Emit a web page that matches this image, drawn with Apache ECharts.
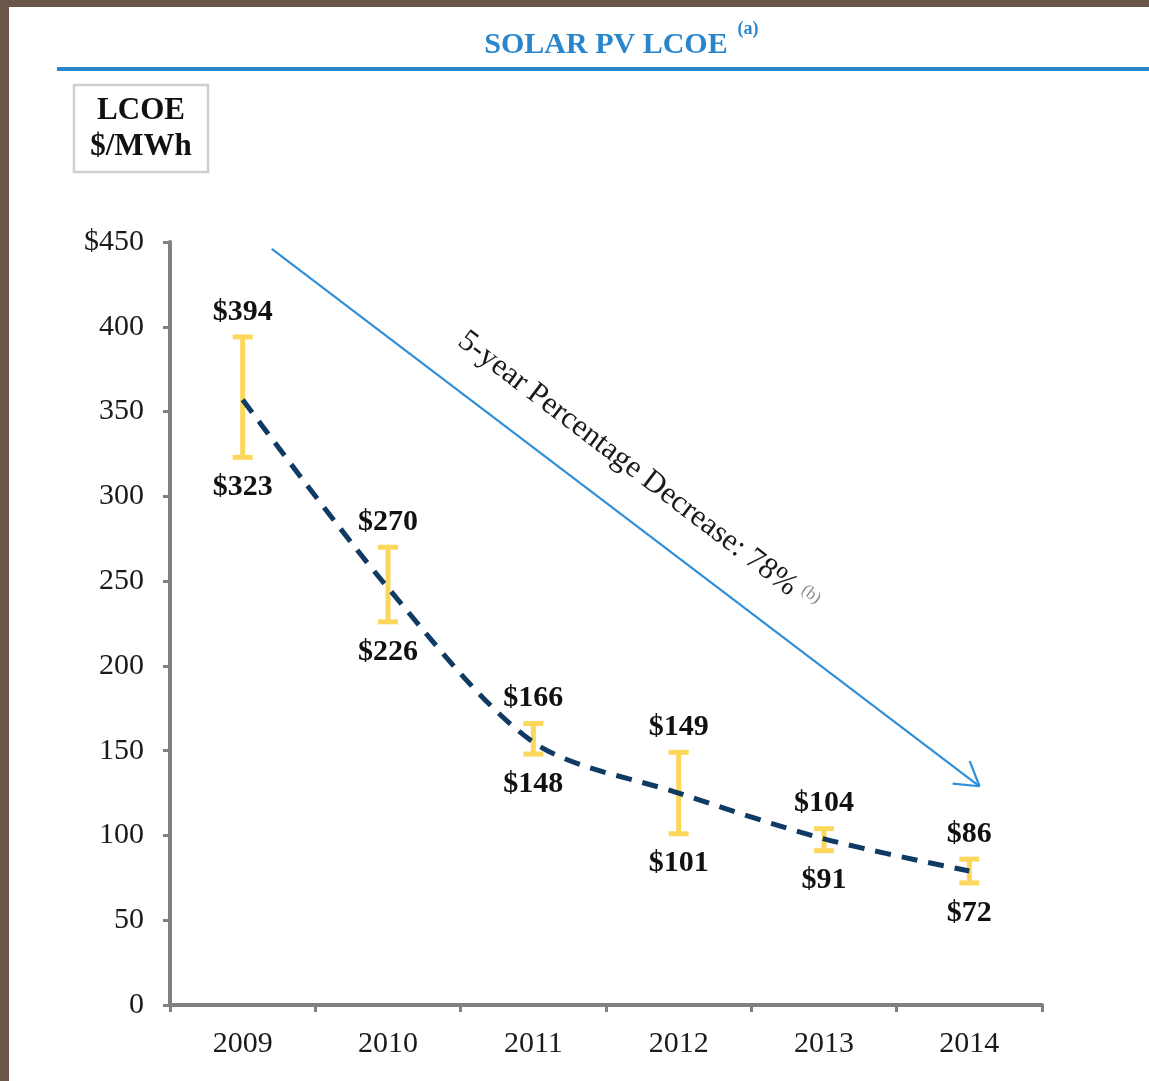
<!DOCTYPE html>
<html>
<head>
<meta charset="utf-8">
<script src="https://cdn.jsdelivr.net/npm/echarts@6/dist/echarts.min.js"></script>
<style>
  html, body { margin: 0; padding: 0; background: #fff; }
  #chart { width: 1149px; height: 1081px; }
</style>
</head>
<body>
<div id="chart"></div>
<script>
// data
const years = ['2009', '2010', '2011', '2012', '2013', '2014']
const lcoeLow = [323, 226, 148, 101, 91, 72]
const lcoeHigh = [394, 270, 166, 149, 104, 86]
const trend = [357, 246, 155, 125, 98, 79]
const yTicks = [0, 50, 100, 150, 200, 250, 300, 350, 400, 450]
// arrow annotation in data space: [xStart, yStart, xEnd, yEnd] (x as category position)
const arrowLine = [0.2, 446, 5.07, 129]
const arrowText = '5-year Percentage Decrease: 78%'

const serif = '"Liberation Serif", "DejaVu Serif", serif'
const gray = '#808080'

function renderErrorBar(params, api) {
  const i = api.value(0)
  const top = api.coord([i, api.value(2)])
  const bot = api.coord([i, api.value(1)])
  const cap = 10
  const barStyle = { stroke: '#fdd75c', lineWidth: 5 }
  const labelStyle = (text, y, va) => ({
    type: 'text',
    x: top[0],
    y: y,
    z2: 10,
    style: {
      text: text,
      fill: '#111',
      font: 'bold 30px ' + serif,
      align: 'center',
      verticalAlign: va
    }
  })
  return {
    type: 'group',
    children: [
      { type: 'line', shape: { x1: top[0], y1: top[1], x2: bot[0], y2: bot[1] }, style: barStyle },
      { type: 'line', shape: { x1: top[0] - cap, y1: top[1], x2: top[0] + cap, y2: top[1] }, style: barStyle },
      { type: 'line', shape: { x1: bot[0] - cap, y1: bot[1], x2: bot[0] + cap, y2: bot[1] }, style: barStyle },
      labelStyle('$' + api.value(2), top[1] - 10, 'bottom'),
      labelStyle('$' + api.value(1), bot[1] + 15, 'top')
    ]
  }
}

function renderArrow(params, api) {
  const p0 = api.coord([api.value(0), api.value(1)])
  const p1 = api.coord([api.value(2), api.value(3)])
  const dx = p1[0] - p0[0]
  const dy = p1[1] - p0[1]
  const len = Math.sqrt(dx * dx + dy * dy)
  const ux = dx / len
  const uy = dy / len
  const ang = Math.atan2(dy, dx)
  const head = 27
  const spread = 0.55
  const a1 = ang + Math.PI - spread
  const a2 = ang + Math.PI + spread
  const lineStyle = { stroke: '#2f8fd8', lineWidth: 2.2 }
  const t = 0.48
  const off = 44
  const cx = p0[0] + dx * t + uy * off
  const cy = p0[1] + dy * t - ux * off
  return {
    type: 'group',
    children: [
      { type: 'line', shape: { x1: p0[0], y1: p0[1], x2: p1[0], y2: p1[1] }, style: lineStyle },
      { type: 'line', shape: { x1: p1[0], y1: p1[1], x2: p1[0] + head * Math.cos(a1), y2: p1[1] + head * Math.sin(a1) }, style: lineStyle },
      { type: 'line', shape: { x1: p1[0], y1: p1[1], x2: p1[0] + head * Math.cos(a2), y2: p1[1] + head * Math.sin(a2) }, style: lineStyle },
      {
        type: 'text',
        x: cx,
        y: cy,
        rotation: -ang,
        style: {
          text: '{m|' + arrowText + '}  {s|(b)}',
          align: 'center',
          verticalAlign: 'middle',
          rich: {
            m: { fontFamily: serif, fontSize: 31, fill: '#1a1a1a', color: '#1a1a1a' },
            s: { fontFamily: serif, fontSize: 17, fill: '#8a8a8a', color: '#8a8a8a', verticalAlign: 'top' }
          }
        }
      }
    ]
  }
}

function renderChart() {
  const chart = echarts.init(document.getElementById('chart'))
  const option = {
    backgroundColor: '#ffffff',
    animation: false,
    grid: { left: 170, right: 107, top: 242, bottom: 76, containLabel: false },
    xAxis: [
      {
        type: 'category',
        data: years,
        boundaryGap: true,
        axisLine: { onZero: false, lineStyle: { color: gray, width: 4 } },
        axisTick: { show: true, length: 7, lineStyle: { color: gray, width: 3 } },
        axisLabel: { color: '#1a1a1a', fontFamily: serif, fontSize: 30, margin: 24 },
        splitLine: { show: false }
      },
      { type: 'value', min: -0.5, max: 5.5, show: false }
    ],
    yAxis: {
      type: 'value',
      min: yTicks[0],
      max: yTicks[yTicks.length - 1],
      interval: yTicks[1] - yTicks[0],
      axisLine: { show: true, onZero: false, lineStyle: { color: gray, width: 4 } },
      axisTick: { show: true, length: 7, lineStyle: { color: gray, width: 3 } },
      axisLabel: {
        color: '#1a1a1a',
        fontFamily: serif,
        fontSize: 30,
        margin: 26,
        formatter: v => (v === yTicks[yTicks.length - 1] ? '$' + v : String(v))
      },
      splitLine: { show: false }
    },
    series: [
      {
        type: 'custom',
        name: 'LCOE range',
        renderItem: renderErrorBar,
        encode: { x: 0, y: [1, 2] },
        data: years.map((y, i) => [i, lcoeLow[i], lcoeHigh[i]]),
        z: 3
      },
      {
        type: 'line',
        name: 'Trend',
        data: trend,
        smooth: 0.3,
        symbol: 'none',
        lineStyle: { color: '#0e3a64', width: 5, type: [16, 11] },
        z: 4
      },
      {
        type: 'custom',
        name: 'Decrease',
        xAxisIndex: 1,
        renderItem: renderArrow,
        encode: { x: [0, 2], y: [1, 3] },
        data: [arrowLine],
        z: 2
      }
    ],
    graphic: [
      { type: 'rect', shape: { x: 0, y: 0, width: 9, height: 1081 }, style: { fill: '#6b564b' }, z: 100 },
      { type: 'rect', shape: { x: 0, y: 0, width: 1149, height: 7 }, style: { fill: '#6b564b' }, z: 100 },
      { type: 'line', shape: { x1: 57, y1: 69, x2: 1149, y2: 69 }, style: { stroke: '#2a86cc', lineWidth: 4 } },
      {
        type: 'text', x: 606, y: 45,
        style: { text: 'SOLAR PV LCOE', fill: '#2a86cc', font: 'bold 30px ' + serif, align: 'center', verticalAlign: 'middle' }
      },
      {
        type: 'text', x: 748, y: 29,
        style: { text: '(a)', fill: '#2a86cc', font: 'bold 18px ' + serif, align: 'center', verticalAlign: 'middle' }
      },
      {
        type: 'rect', shape: { x: 74, y: 85, width: 134, height: 87 },
        style: { fill: '#fff', stroke: '#cfcfcf', lineWidth: 2.5 }
      },
      {
        type: 'text', x: 141, y: 111,
        style: { text: 'LCOE', fill: '#111', font: 'bold 31px ' + serif, align: 'center', verticalAlign: 'middle' }
      },
      {
        type: 'text', x: 141, y: 147,
        style: { text: '$/MWh', fill: '#111', font: 'bold 31px ' + serif, align: 'center', verticalAlign: 'middle' }
      }
    ]
  }
  chart.setOption(option)
}

document.addEventListener('DOMContentLoaded', renderChart)
</script>
</body>
</html>
